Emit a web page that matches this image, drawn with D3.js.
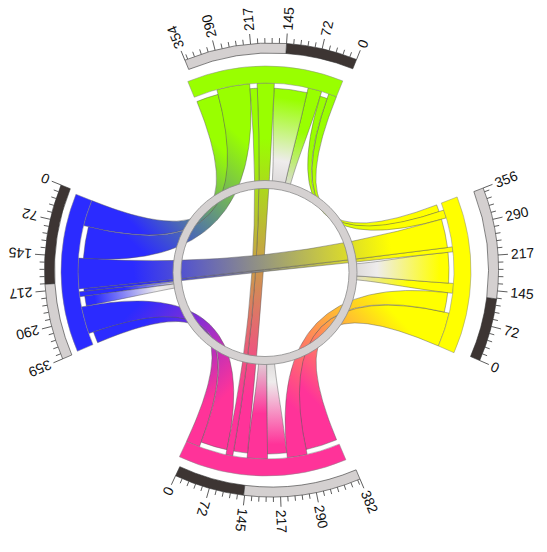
<!DOCTYPE html>
<html><head><meta charset="utf-8">
<script src="https://cdn.jsdelivr.net/npm/d3@7"></script>
<style>body{margin:0;background:#fff}</style>
</head><body>
<svg id="c" width="547" height="552"></svg>
<script>
// ---------- data ----------
const segNames  = ["green", "yellow", "pink", "blue"];
const segTotals = [354, 356, 382, 359];
const segDark   = [145, 129, 143, 204];
const segColors = ["#99ff00", "#ffff00", "#ff3399", "#2b2bff"];
const tickValues = [0, 72.5, 145, 217.5, 290];
const tickLabels = ["0", "72", "145", "217", "290"];
const minorStep = 14.5;
// self links: [segment, touch from, touch to (= notch from), notch to]
const selfLinks = [
  [0, 38, 72, 155],
  [1, 133, 157, 234],
  [2, 153, 203, 251],
  [3, 226, 238, 263]
];
// ribbons: [source segment, source from, source to, target segment, target from, target to]
const ribbons = [
  [0, 0, 20, 1, 338, 356],
  [1, 318, 338, 0, 20, 38],
  [1, 0, 84, 2, 300, 380],
  [2, 251, 300, 1, 84, 133],
  [2, 0, 34, 3, 330, 359],
  [3, 263, 330, 2, 34, 101],
  [3, 0, 64, 0, 296, 352],
  [0, 215, 296, 3, 64, 144],
  [0, 155, 197, 2, 118, 153],
  [2, 101, 118, 0, 197, 215],
  [1, 234, 246, 3, 219, 226],
  [3, 144, 219, 1, 246, 318]
];

// ---------- layout ----------
const S = {x: 271.5, y: 270};   // scale centre
const P = {x: 266, y: 271};     // petals centre
const RC = {x: 265, y: 272.5};  // ring centre
const degPerUnit = 0.1255;
const startDeg = [22, 113.5, 205, 292];
const rad = Math.PI / 180;
const angle = segTotals.map((t, i) =>
  d3.scaleLinear().domain([0, t]).range([startDeg[i] * rad, (startDeg[i] - t * degPerUnit) * rad]));

const svg = d3.select("#c");
const defs = svg.append("defs");
const pt = (c, a, r) => [c.x + r * Math.sin(a), c.y - r * Math.cos(a)];

const rTouch = 188, rNotch = 183, rBandOut = 205;

function ribbonPath(a0, a1, rs, b0, b1, rt, c) {
  const p = d3.path();
  const s0 = pt(c, a0, rs), t0 = pt(c, b0, rt);
  p.moveTo(s0[0], s0[1]);
  p.arc(c.x, c.y, rs, a0 - Math.PI / 2, a1 - Math.PI / 2, a1 < a0);
  p.quadraticCurveTo(c.x, c.y, t0[0], t0[1]);
  p.arc(c.x, c.y, rt, b0 - Math.PI / 2, b1 - Math.PI / 2, b1 < b0);
  p.quadraticCurveTo(c.x, c.y, s0[0], s0[1]);
  p.closePath();
  return p.toString();
}

function tonguePart(a0, a1, r0, mid, shrink, tipR) {
  const ta0 = mid + (a0 - mid) * shrink, ta1 = mid + (a1 - mid) * shrink;
  const p = d3.path();
  const s0 = pt(P, a0, r0);
  p.moveTo(s0[0], s0[1]);
  p.arc(P.x, P.y, r0, a0 - Math.PI / 2, a1 - Math.PI / 2, a1 < a0);
  let c1 = pt(P, a1, r0 - 50), c2 = pt(P, ta1, tipR + 35), e = pt(P, ta1, tipR);
  p.bezierCurveTo(c1[0], c1[1], c2[0], c2[1], e[0], e[1]);
  p.arc(P.x, P.y, tipR, ta1 - Math.PI / 2, ta0 - Math.PI / 2, ta0 < ta1);
  c1 = pt(P, ta0, tipR + 35); c2 = pt(P, a0, r0 - 50);
  p.bezierCurveTo(c1[0], c1[1], c2[0], c2[1], s0[0], s0[1]);
  p.closePath();
  return p.toString();
}

function gradient(id, p1, p2, stops) {
  const lg = defs.append("linearGradient").attr("id", id)
    .attr("gradientUnits", "userSpaceOnUse")
    .attr("x1", p1[0]).attr("y1", p1[1]).attr("x2", p2[0]).attr("y2", p2[1]);
  stops.forEach(([o, c]) => lg.append("stop").attr("offset", o).attr("stop-color", c));
}

const gRib = svg.append("g");
// self links drawn as tongues reaching the ring
selfLinks.forEach((sl, i) => {
  const [s, u0, um, u1] = sl;
  const a0 = angle[s](u0), am = angle[s](um), a1 = angle[s](u1);
  const mid = (a0 + a1) / 2;
  const tipR = 87;
  gradient("st" + i, pt(P, mid, 188), pt(P, mid, tipR),
    [[0, segColors[s]], [0.45, segColors[s]], [1, "#dedbdb"]]);
  gradient("sn" + i, pt(P, mid, 183), pt(P, mid, tipR),
    [[0, segColors[s]], [0.1, segColors[s]], [0.75, "#eeecec"], [1, "#dcd9d9"]]);
  gRib.append("path").attr("d", tonguePart(a0, am, rTouch, mid, 0.8, tipR))
    .attr("fill", `url(#st${i})`).attr("stroke", "#555").attr("stroke-opacity", 0.75).attr("stroke-width", 0.6);
  gRib.append("path").attr("d", tonguePart(am, a1, rNotch, mid, 0.8, tipR))
    .attr("fill", `url(#sn${i})`).attr("stroke", "#555").attr("stroke-opacity", 0.75).attr("stroke-width", 0.6);
});

ribbons.forEach((rb, i) => {
  const [s, u0, u1, t, v0, v1] = rb;
  const a0 = angle[s](u0), a1 = angle[s](u1), b0 = angle[t](v0), b1 = angle[t](v1);
  const p1 = pt(P, (a0 + a1) / 2, rTouch), p2 = pt(P, (b0 + b1) / 2, rNotch);
  gradient("g" + i, p1, p2,
    [[0, segColors[s]], [0.15, segColors[s]], [0.85, segColors[t]], [1, segColors[t]]]);
  gRib.append("path")
    .attr("d", ribbonPath(a0, a1, rTouch, b0, b1, rNotch, P))
    .attr("fill", `url(#g${i})`)
    .attr("stroke", "#555").attr("stroke-opacity", 0.75).attr("stroke-width", 0.6);
});

// central ring
const ring = d3.path();
ring.arc(RC.x, RC.y, 92, 0, 2 * Math.PI); ring.closePath();
ring.moveTo(RC.x + 84, RC.y);
ring.arc(RC.x, RC.y, 84, 0, 2 * Math.PI, true); ring.closePath();
svg.append("path").attr("d", ring.toString()).attr("fill", "#d5d1d1")
  .attr("fill-rule", "evenodd").attr("stroke", "#8a8a8a").attr("stroke-width", 0.8);

// petal bands
const bandArc = d3.arc().innerRadius(rTouch).outerRadius(rBandOut);
segTotals.forEach((t, i) => {
  const a0 = angle[i](0), a1 = angle[i](t);
  svg.append("path").attr("transform", `translate(${P.x},${P.y})`)
    .attr("d", bandArc({startAngle: Math.min(a0, a1), endAngle: Math.max(a0, a1)}))
    .attr("fill", segColors[i]).attr("stroke", "#888").attr("stroke-width", 0.5);
});

// outer scales
const scaleArc = d3.arc().innerRadius(217).outerRadius(227);
const gS = svg.append("g").attr("transform", `translate(${S.x},${S.y})`);
const O = {x: 0, y: 0};
function tick(a, r1) {
  const p0 = pt(O, a, 227), p1 = pt(O, a, r1);
  gS.append("line").attr("x1", p0[0]).attr("y1", p0[1]).attr("x2", p1[0]).attr("y2", p1[1])
    .attr("stroke", "#333").attr("stroke-width", 0.8);
}
segTotals.forEach((t, i) => {
  const parts = [[0, segDark[i], "#3d3533"], [segDark[i], t, "#d4d0d0"]];
  parts.forEach(([u0, u1, col]) => {
    const a0 = angle[i](u0), a1 = angle[i](u1);
    gS.append("path")
      .attr("d", scaleArc({startAngle: Math.min(a0, a1), endAngle: Math.max(a0, a1)}))
      .attr("fill", col).attr("stroke", "#333").attr("stroke-width", 0.6);
  });
  d3.range(0, t + 0.01, minorStep).forEach(v => {
    const major = tickValues.some(m => Math.abs(m - v) < 0.01);
    tick(angle[i](v), major ? 237 : 232);
  });
  tick(angle[i](t), 237);
  const labs = tickValues.map((v, k) => [v, tickLabels[k]]).concat([[t, String(t)]]);
  labs.forEach(([v, txt]) => {
    const a = angle[i](v);
    const p = pt(O, a, 240);
    gS.append("text")
      .attr("transform", `translate(${p[0]},${p[1]}) rotate(${a / rad - 90})`)
      .attr("text-anchor", "start").attr("dominant-baseline", "central")
      .attr("font-family", "Liberation Sans, Arial, sans-serif").attr("font-size", 14)
      .attr("fill", "#111").text(txt);
  });
});
</script>
</body></html>
